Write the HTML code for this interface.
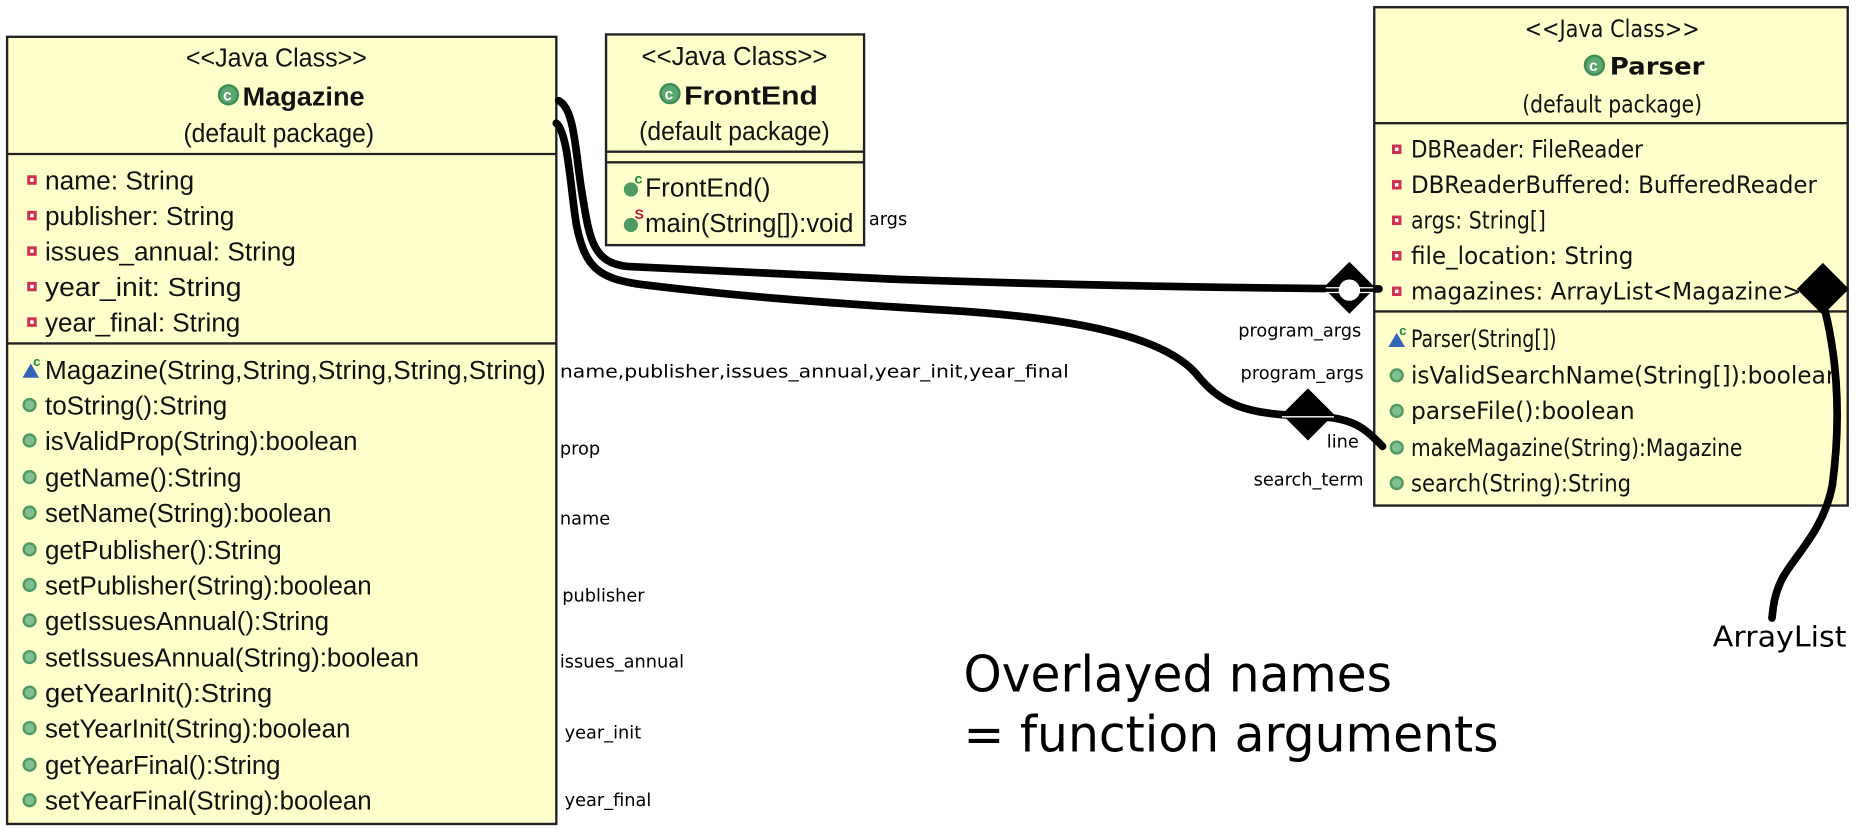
<!DOCTYPE html>
<html><head><meta charset="utf-8"><style>
html,body{margin:0;padding:0;background:#fff;width:1856px;height:830px;overflow:hidden}
svg{display:block}
.t{font-family:"Liberation Sans",sans-serif;font-size:22px;fill:#111}
.d{font-family:"DejaVu Sans",sans-serif;font-size:20px;fill:#111}
.l{font-family:"DejaVu Sans",sans-serif;font-size:15px;fill:#000}
</style></head><body>
<svg width="1856" height="830" viewBox="0 0 1568 701" xmlns="http://www.w3.org/2000/svg">
<defs>
<g id="cls"><circle r="9" fill="#3c8c55"/><circle r="7" fill="#5aa86e"/><text x="-4.5" y="5" font-family="Liberation Sans" font-weight="bold" font-size="13" fill="#fff">c</text></g>
<g id="pf"><rect x="-4" y="-4" width="8" height="8" fill="#d03050"/><rect x="-1.5" y="-1.5" width="3" height="3" fill="#fff"/></g>
<g id="pm"><circle r="6" fill="#4f9a62"/><circle r="4" fill="#7fc08e"/></g>
<g id="ctor"><path d="M-7,6 L0,-6 L7,6 Z" fill="#3563b8"/><text x="2" y="-4" font-family="Liberation Sans" font-weight="bold" font-size="11" fill="#1a8a3a">c</text></g>
</defs>

<!-- Magazine -->
<rect x="6" y="31" width="464" height="665" fill="#ffffcc" stroke="#222" stroke-width="2"/>
<line x1="6" y1="130" x2="470" y2="130" stroke="#222" stroke-width="2"/>
<line x1="6" y1="290" x2="470" y2="290" stroke="#222" stroke-width="2"/>
<text class="t" x="157" y="56" lengthAdjust="spacingAndGlyphs" textLength="153">&lt;&lt;Java Class&gt;&gt;</text>
<use href="#cls" x="193" y="80"/>
<text class="t" x="205" y="89" font-weight="bold" font-size="25" lengthAdjust="spacingAndGlyphs" textLength="103">Magazine</text>
<text class="t" x="155" y="120" lengthAdjust="spacingAndGlyphs" textLength="161">(default package)</text>
<g>
<use href="#pf" x="27" y="152"/><text class="t" x="38" y="160" lengthAdjust="spacingAndGlyphs" textLength="126">name: String</text>
<use href="#pf" x="27" y="182"/><text class="t" x="38" y="190" lengthAdjust="spacingAndGlyphs" textLength="160">publisher: String</text>
<use href="#pf" x="27" y="212"/><text class="t" x="38" y="220" lengthAdjust="spacingAndGlyphs" textLength="212">issues_annual: String</text>
<use href="#pf" x="27" y="242"/><text class="t" x="38" y="250" lengthAdjust="spacingAndGlyphs" textLength="166">year_init: String</text>
<use href="#pf" x="27" y="272"/><text class="t" x="38" y="280" lengthAdjust="spacingAndGlyphs" textLength="165">year_final: String</text>
</g>
<g>
<use href="#ctor" x="26" y="313"/><text class="t" x="38" y="320" lengthAdjust="spacingAndGlyphs" textLength="423">Magazine(String,String,String,String,String)</text>
<use href="#pm" x="25" y="342"/><text class="t" x="38" y="350" lengthAdjust="spacingAndGlyphs" textLength="154">toString():String</text>
<use href="#pm" x="25" y="372"/><text class="t" x="38" y="380" lengthAdjust="spacingAndGlyphs" textLength="264">isValidProp(String):boolean</text>
<use href="#pm" x="25" y="403"/><text class="t" x="38" y="411" lengthAdjust="spacingAndGlyphs" textLength="166">getName():String</text>
<use href="#pm" x="25" y="433"/><text class="t" x="38" y="441" lengthAdjust="spacingAndGlyphs" textLength="242">setName(String):boolean</text>
<use href="#pm" x="25" y="464"/><text class="t" x="38" y="472" lengthAdjust="spacingAndGlyphs" textLength="200">getPublisher():String</text>
<use href="#pm" x="25" y="494"/><text class="t" x="38" y="502" lengthAdjust="spacingAndGlyphs" textLength="276">setPublisher(String):boolean</text>
<use href="#pm" x="25" y="524"/><text class="t" x="38" y="532" lengthAdjust="spacingAndGlyphs" textLength="240">getIssuesAnnual():String</text>
<use href="#pm" x="25" y="555"/><text class="t" x="38" y="563" lengthAdjust="spacingAndGlyphs" textLength="316">setIssuesAnnual(String):boolean</text>
<use href="#pm" x="25" y="585"/><text class="t" x="38" y="593" lengthAdjust="spacingAndGlyphs" textLength="192">getYearInit():String</text>
<use href="#pm" x="25" y="615"/><text class="t" x="38" y="623" lengthAdjust="spacingAndGlyphs" textLength="258">setYearInit(String):boolean</text>
<use href="#pm" x="25" y="646"/><text class="t" x="38" y="654" lengthAdjust="spacingAndGlyphs" textLength="199">getYearFinal():String</text>
<use href="#pm" x="25" y="676"/><text class="t" x="38" y="684" lengthAdjust="spacingAndGlyphs" textLength="276">setYearFinal(String):boolean</text>
</g>

<!-- FrontEnd -->
<rect x="512" y="29" width="218" height="178" fill="#ffffcc" stroke="#222" stroke-width="2"/>
<line x1="512" y1="128" x2="730" y2="128" stroke="#222" stroke-width="2"/>
<line x1="512" y1="137" x2="730" y2="137" stroke="#222" stroke-width="2"/>
<text class="t" x="542" y="55" lengthAdjust="spacingAndGlyphs" textLength="157">&lt;&lt;Java Class&gt;&gt;</text>
<use href="#cls" x="566" y="79"/>
<text class="t" x="578" y="88" font-weight="bold" font-size="25" lengthAdjust="spacingAndGlyphs" textLength="113">FrontEnd</text>
<text class="t" x="540" y="118" lengthAdjust="spacingAndGlyphs" textLength="161">(default package)</text>
<circle cx="533" cy="160" r="6" fill="#4f9a62"/><text x="536" y="155" font-family="Liberation Sans" font-weight="bold" font-size="12" fill="#1a8a3a">c</text>
<text class="t" x="545" y="166" lengthAdjust="spacingAndGlyphs" textLength="106">FrontEnd()</text>
<circle cx="533" cy="190" r="6" fill="#4f9a62"/><text x="536" y="185" font-family="Liberation Sans" font-weight="bold" font-size="12" fill="#c0163a">S</text>
<text class="t" x="545" y="196" lengthAdjust="spacingAndGlyphs" textLength="176">main(String[]):void</text>
<text class="l" x="734" y="190">args</text>

<!-- Parser -->
<rect x="1161" y="6" width="400" height="421" fill="#ffffcc" stroke="#222" stroke-width="2"/>
<line x1="1161" y1="104" x2="1561" y2="104" stroke="#222" stroke-width="2"/>
<line x1="1161" y1="263" x2="1561" y2="263" stroke="#222" stroke-width="2"/>
<text class="d" x="1288" y="31" lengthAdjust="spacingAndGlyphs" textLength="148">&lt;&lt;Java Class&gt;&gt;</text>
<use href="#cls" x="1347" y="55"/>
<text class="d" x="1360" y="63" font-weight="bold" font-size="22" lengthAdjust="spacingAndGlyphs" textLength="80">Parser</text>
<text class="d" x="1286" y="95" lengthAdjust="spacingAndGlyphs" textLength="152">(default package)</text>
<use href="#pf" x="1180" y="126"/><text class="d" x="1192" y="133" lengthAdjust="spacingAndGlyphs" textLength="196">DBReader: FileReader</text>
<use href="#pf" x="1180" y="156"/><text class="d" x="1192" y="163" lengthAdjust="spacingAndGlyphs" textLength="343">DBReaderBuffered: BufferedReader</text>
<use href="#pf" x="1180" y="186"/><text class="d" x="1192" y="193" lengthAdjust="spacingAndGlyphs" textLength="114">args: String[]</text>
<use href="#pf" x="1180" y="216"/><text class="d" x="1192" y="223" lengthAdjust="spacingAndGlyphs" textLength="188">file_location: String</text>
<use href="#pf" x="1180" y="246"/><text class="d" x="1192" y="253" lengthAdjust="spacingAndGlyphs" textLength="330">magazines: ArrayList&lt;Magazine&gt;</text>
<use href="#ctor" x="1180" y="287"/><text class="d" x="1192" y="293" lengthAdjust="spacingAndGlyphs" textLength="123">Parser(String[])</text>
<use href="#pm" x="1180" y="317"/><text class="d" x="1192" y="324" lengthAdjust="spacingAndGlyphs" textLength="363">isValidSearchName(String[]):boolean</text>
<use href="#pm" x="1180" y="347"/><text class="d" x="1192" y="354" lengthAdjust="spacingAndGlyphs" textLength="189">parseFile():boolean</text>
<use href="#pm" x="1180" y="378"/><text class="d" x="1192" y="385" lengthAdjust="spacingAndGlyphs" textLength="280">makeMagazine(String):Magazine</text>
<use href="#pm" x="1180" y="408"/><text class="d" x="1192" y="415" lengthAdjust="spacingAndGlyphs" textLength="186">search(String):String</text>

<!-- connectors -->
<g fill="none" stroke="#000" stroke-width="6.5" stroke-linecap="round" stroke-linejoin="round">
<path d="M472,85 C486,92 486,130 492,165 C498,200 500,222 530,225 C600,228 680,232 760,236 C880,240 1000,243 1165,244"/>
<path d="M470,104 C480,112 482,160 487,190 C494,225 505,235 540,240 C620,250 700,256 800,262 C900,268 980,282 1010,315 C1030,340 1050,350 1100,351 C1140,352 1150,358 1168,377"/>
<path d="M1540,255 C1552,300 1556,350 1548,410 C1540,450 1515,470 1505,490 C1498,505 1498,515 1497,522"/>
</g>
<path d="M1140,221 L1162,243 L1140,265 L1118,243 Z" fill="#000"/>
<line x1="1120" y1="243" x2="1160" y2="243" stroke="#fff" stroke-width="1"/>
<line x1="1120" y1="247" x2="1160" y2="247" stroke="#fff" stroke-width="1"/>
<circle cx="1140" cy="245" r="9" fill="#fff"/>
<path d="M1105,328 L1127,350 L1105,372 L1083,350 Z" fill="#000"/>
<line x1="1083" y1="352" x2="1127" y2="352" stroke="#fff" stroke-width="1.2"/>
<path d="M1540,222 L1562,244 L1540,266 L1518,244 Z" fill="#000"/>

<!-- labels -->
<text class="l" x="1150" y="284" text-anchor="end">program_args</text>
<text class="l" x="1152" y="320" text-anchor="end">program_args</text>
<text class="l" x="1148" y="378" text-anchor="end">line</text>
<text class="l" x="1152" y="410" text-anchor="end">search_term</text>
<text class="l" x="473" y="319" lengthAdjust="spacingAndGlyphs" textLength="430">name,publisher,issues_annual,year_init,year_final</text>
<text class="l" x="473" y="384">prop</text>
<text class="l" x="473" y="443">name</text>
<text class="l" x="475" y="508">publisher</text>
<text class="l" x="473" y="564">issues_annual</text>
<text class="l" x="477" y="624">year_init</text>
<text class="l" x="477" y="681">year_final</text>
<text x="1447" y="546" font-family="DejaVu Sans" font-size="24" lengthAdjust="spacingAndGlyphs" textLength="113">ArrayList</text>
<text x="814" y="584" font-family="DejaVu Sans" font-size="42" lengthAdjust="spacingAndGlyphs" textLength="362">Overlayed names</text>
<text x="814" y="635" font-family="DejaVu Sans" font-size="42" lengthAdjust="spacingAndGlyphs" textLength="452">= function arguments</text>
</svg>
</body></html>
